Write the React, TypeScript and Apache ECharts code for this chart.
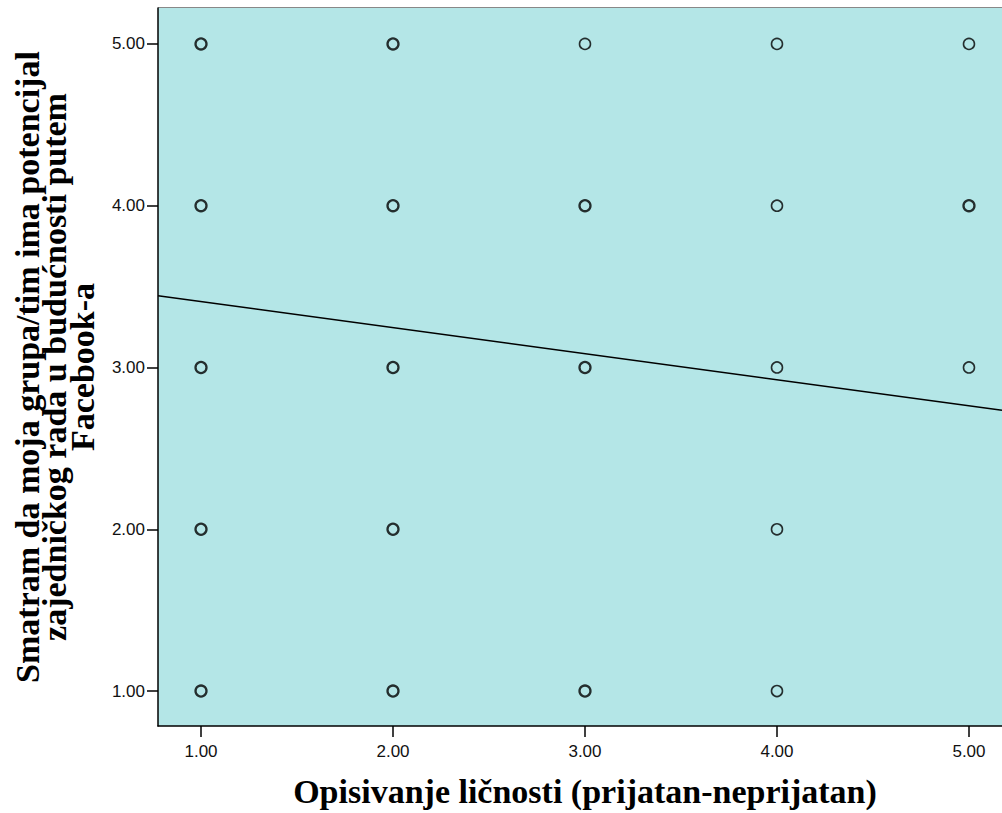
import React, { useEffect, useRef } from "react";
import * as echarts from "echarts";

const xTicks = [1, 2, 3, 4, 5];
const yTicks = [1, 2, 3, 4, 5];

// points drawn with a heavier outline (overlapping cases)
const boldPoints: [number, number][] = [
  [1, 5], [2, 5],
  [1, 4], [2, 4], [3, 4], [5, 4],
  [1, 3], [2, 3], [3, 3],
  [1, 2], [2, 2],
  [1, 1], [2, 1], [3, 1],
];
// points drawn with a lighter outline
const thinPoints: [number, number][] = [
  [3, 5], [4, 5], [5, 5],
  [4, 4],
  [4, 3], [5, 3],
  [4, 2],
  [4, 1],
];
// linear fit line endpoints
const fitLine: [number, number][] = [
  [0.776, 3.444],
  [5.172, 2.735],
];

const xName = "Opisivanje ličnosti (prijatan-neprijatan)";
const yName = "Smatram da moja grupa/tim ima potencijal\nzajedničkog rada u budućnosti putem\nFacebook-a";

export default function App() {
  const ref = useRef<HTMLDivElement>(null);
  useEffect(() => {
    if (!ref.current) return;
    const chart = echarts.init(ref.current, undefined, { renderer: "svg" });
    const tickLabel = {
      fontFamily: "Liberation Sans, Arial, sans-serif",
      fontSize: 17,
      color: "#111",
      formatter: (v: number) => v.toFixed(2),
    };
    chart.setOption({
      animation: false,
      backgroundColor: "#ffffff",
      grid: {
        left: 158,
        top: 8,
        right: 0,
        bottom: 86,
        show: true,
        backgroundColor: "#b4e6e7",
        borderWidth: 0,
      },
      xAxis: {
        type: "value",
        min: 0.776,
        max: 5.172,
        name: xName,
        nameLocation: "middle",
        nameGap: 48,
        nameTextStyle: {
          fontFamily: "Liberation Serif, Times New Roman, serif",
          fontWeight: "bold",
          fontSize: 34,
          color: "#000",
          verticalAlign: "top",
          padding: [0, 0, 0, 10],
        },
        axisLine: { show: true, onZero: false, lineStyle: { color: "#000", width: 1.5 } },
        axisTick: { show: true, length: 11, customValues: xTicks, lineStyle: { color: "#000", width: 1.5 } },
        axisLabel: { ...tickLabel, customValues: xTicks, margin: 17 },
        splitLine: { show: false },
      },
      yAxis: {
        type: "value",
        min: 0.784,
        max: 5.222,
        name: yName,
        nameLocation: "middle",
        nameRotate: 90,
        nameGap: 62,
        nameTextStyle: {
          fontFamily: "Liberation Serif, Times New Roman, serif",
          fontWeight: "bold",
          fontSize: 34,
          lineHeight: 27.5,
          color: "#000",
          align: "center",
        },
        axisLine: { show: true, onZero: false, lineStyle: { color: "#000", width: 1.5 } },
        axisTick: { show: true, length: 11, customValues: yTicks, lineStyle: { color: "#000", width: 1.5 } },
        axisLabel: { ...tickLabel, customValues: yTicks, margin: 13 },
        splitLine: { show: false },
      },
      graphic: [
        {
          type: "line",
          shape: { x1: 158, y1: 7.5, x2: 1002, y2: 7.5 },
          style: { stroke: "#888", lineWidth: 1 },
          silent: true,
        },
      ],
      series: [
        {
          type: "line",
          data: fitLine,
          symbol: "none",
          lineStyle: { color: "#000", width: 1.5 },
          z: 2,
        },
        {
          type: "scatter",
          data: thinPoints,
          symbol: "circle",
          symbolSize: 11,
          itemStyle: { color: "transparent", borderColor: "#000", borderWidth: 1.6 },
          z: 3,
        },
        {
          type: "scatter",
          data: boldPoints,
          symbol: "circle",
          symbolSize: 11,
          itemStyle: { color: "transparent", borderColor: "#000", borderWidth: 2.3 },
          z: 3,
        },
      ],
    });
    return () => chart.dispose();
  }, []);
  return (
    <div
      ref={ref}
      style={{ position: "fixed", left: 0, top: 0, width: 1002, height: 813 }}
    />
  );
}
